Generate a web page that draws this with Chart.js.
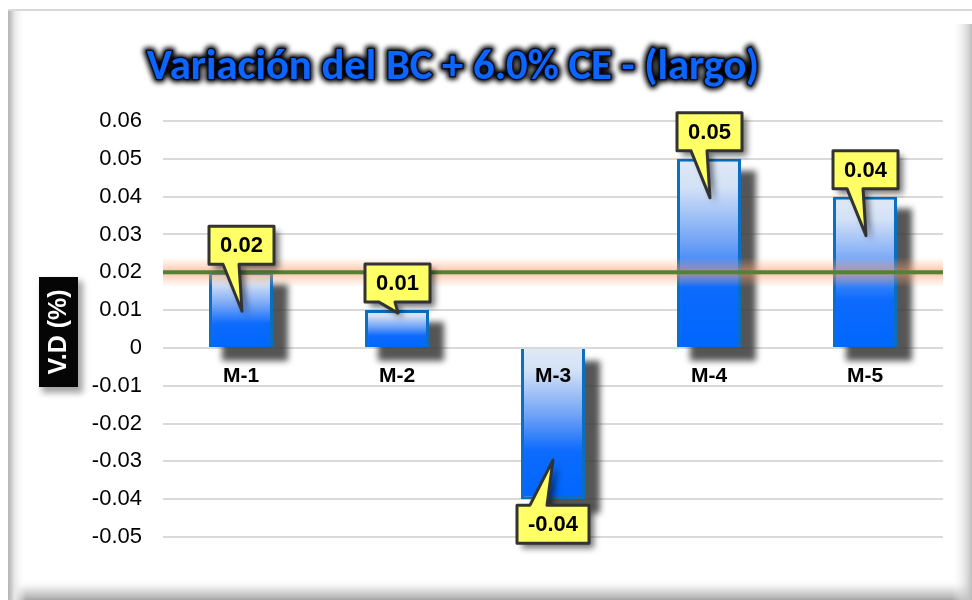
<!DOCTYPE html>
<html>
<head>
<meta charset="utf-8">
<script src="https://cdn.jsdelivr.net/npm/chart.js@4"></script>
<style>
  html, body { margin: 0; padding: 0; background: #fff; }
  canvas { display: block; }
</style>
</head>
<body>
<canvas id="chart" width="972" height="600"></canvas>
<script>
// Chart text
const chartTitle = 'Variación del BC + 6.0% CE - (largo)';
const axisTitle = 'V.D (%)';

// Data
const categories = ['M-1', 'M-2', 'M-3', 'M-4', 'M-5'];
const variation = [0.02, 0.01, -0.04, 0.05, 0.04];
const yTickValues = [-0.05, -0.04, -0.03, -0.02, -0.01, 0, 0.01, 0.02, 0.03, 0.04, 0.05, 0.06];
const targetLine = 0.02;

const fmt = v => String(Number(v.toFixed(2)));
const SANS = "'Liberation Sans', Arial, sans-serif";

// Vertical gradient from pale blue at the upper end of a bar to strong blue at the lower end
function barFill(context) {
  const chart = context.chart;
  const y = chart.scales.y;
  if (!y || context.type !== 'data') return '#0066ff';
  const p0 = y.getPixelForValue(0);
  const p1 = y.getPixelForValue(context.raw);
  const top = Math.min(p0, p1), bot = Math.max(p0, p1);
  if (!isFinite(top) || !isFinite(bot) || bot - top < 1) return '#0066ff';
  const g = chart.ctx.createLinearGradient(0, top, 0, bot);
  g.addColorStop(0, '#e0eaf6');
  g.addColorStop(0.15, '#d3e1f6');
  g.addColorStop(0.45, '#6ea1f6');
  g.addColorStop(0.68, '#0d6bfd');
  g.addColorStop(1, '#0066ff');
  return g;
}

// Bevelled panel behind the whole chart
const panelFrame = {
  id: 'panelFrame',
  beforeDraw(chart) {
    const { ctx, width, height } = chart;
    ctx.save();
    ctx.fillStyle = '#ffffff';
    ctx.fillRect(0, 0, width, height);
    // top rule
    ctx.fillStyle = '#d9d9d9';
    ctx.fillRect(8, 9, width - 8, 2);
    // bottom edge shading
    let g = ctx.createLinearGradient(0, 580, 0, height);
    g.addColorStop(0, 'rgba(255,255,255,0)');
    g.addColorStop(0.5, 'rgba(215,215,215,0.8)');
    g.addColorStop(1, '#a6a6a6');
    ctx.fillStyle = g;
    ctx.fillRect(8, 580, width - 8, height - 580);
    // left bevel
    g = ctx.createLinearGradient(8, 0, 26, 0);
    g.addColorStop(0, '#b4b4b4');
    g.addColorStop(0.18, '#c9c9c9');
    g.addColorStop(0.35, '#e6e6e6');
    g.addColorStop(1, 'rgba(255,255,255,0)');
    ctx.fillStyle = g;
    ctx.fillRect(8, 11, 18, height - 11);
    // right edge shading
    g = ctx.createLinearGradient(952, 0, width, 0);
    g.addColorStop(0, 'rgba(255,255,255,0)');
    g.addColorStop(1, '#bdbdbd');
    ctx.fillStyle = g;
    ctx.fillRect(952, 24, width - 952, height - 24);
    ctx.restore();
  }
};

// Soft drop shadows under the bars
const barShadows = {
  id: 'barShadows',
  beforeDatasetsDraw(chart) {
    const { ctx } = chart;
    const meta = chart.getDatasetMeta(0);
    ctx.save();
    ctx.filter = 'blur(3px)';
    ctx.fillStyle = 'rgba(55,55,55,0.85)';
    meta.data.forEach(el => {
      const { x, y, base, width } = el.getProps(['x', 'y', 'base', 'width'], true);
      const top = Math.min(y, base), bot = Math.max(y, base);
      ctx.fillRect(x - width / 2 + 13, top + 12, width + 2, bot - top + 2);
    });
    ctx.restore();
  }
};

// Reference line with a soft orange halo
const targetBand = {
  id: 'targetBand',
  afterDatasetsDraw(chart) {
    const { ctx, chartArea } = chart;
    const yPix = chart.scales.y.getPixelForValue(targetLine);
    ctx.save();
    const g = ctx.createLinearGradient(0, yPix - 15, 0, yPix + 15);
    g.addColorStop(0, 'rgba(250,170,120,0)');
    g.addColorStop(0.3, 'rgba(250,160,110,0.35)');
    g.addColorStop(0.5, 'rgba(248,150,100,0.6)');
    g.addColorStop(0.7, 'rgba(250,160,110,0.35)');
    g.addColorStop(1, 'rgba(250,170,120,0)');
    ctx.fillStyle = g;
    ctx.fillRect(chartArea.left, yPix - 15, chartArea.right - chartArea.left, 30);
    ctx.fillStyle = '#538135';
    ctx.fillRect(chartArea.left, yPix - 2, chartArea.right - chartArea.left, 4);
    ctx.restore();
  }
};

// Yellow callout labels pointing into each bar
const callouts = {
  id: 'callouts',
  afterDatasetsDraw(chart) {
    const { ctx } = chart;
    const meta = chart.getDatasetMeta(0);
    const values = chart.data.datasets[0].data;
    ctx.save();
    ctx.font = 'bold 22px ' + SANS;
    meta.data.forEach((el, i) => {
      const v = values[i];
      const { x, y, base } = el.getProps(['x', 'y', 'base'], true);
      const text = fmt(v);
      const tw = ctx.measureText(text).width;
      const w = Math.round(tw + 22), h = 38;
      const L = Math.round(x - w / 2), R = L + w;
      const len = Math.abs(base - y);
      const depth = Math.min(39, Math.max(3, len - 35));
      let T, B;
      ctx.beginPath();
      if (v >= 0) {
        B = y - 8; T = B - h;
        ctx.moveTo(L, T); ctx.lineTo(R, T); ctx.lineTo(R, B);
        ctx.lineTo(L + 30, B); ctx.lineTo(x + 1, y + depth); ctx.lineTo(L + 14, B);
        ctx.lineTo(L, B);
      } else {
        T = y + 6; B = T + h;
        ctx.moveTo(L, T); ctx.lineTo(L + 13, T); ctx.lineTo(x, y - depth);
        ctx.lineTo(L + 30, T); ctx.lineTo(R, T); ctx.lineTo(R, B); ctx.lineTo(L, B);
      }
      ctx.closePath();
      ctx.save();
      ctx.shadowColor = 'rgba(0,0,0,0.55)';
      ctx.shadowBlur = 6;
      ctx.shadowOffsetX = 5;
      ctx.shadowOffsetY = 5;
      ctx.fillStyle = '#ffff66';
      ctx.fill();
      ctx.restore();
      ctx.lineWidth = 3;
      ctx.lineJoin = 'round';
      ctx.strokeStyle = '#333333';
      ctx.stroke();
      ctx.fillStyle = '#000';
      ctx.textAlign = 'center';
      ctx.textBaseline = 'middle';
      ctx.fillText(text, (L + R) / 2, (T + B) / 2 + 1);
    });
    ctx.restore();
  }
};

// Title with dark glow and the boxed vertical axis caption
const headings = {
  id: 'headings',
  afterDraw(chart) {
    const { ctx } = chart;
    ctx.save();
    // title, fitted to its span
    let size = 40;
    ctx.font = `bold ${size}px Carlito, Lato, sans-serif`;
    const target = 612;
    size = size * target / ctx.measureText(chartTitle).width;
    ctx.font = `bold ${size.toFixed(1)}px Carlito, Lato, sans-serif`;
    ctx.textAlign = 'center';
    ctx.textBaseline = 'alphabetic';
    const tx = 453, ty = 79;
    ctx.filter = 'blur(2.5px)';
    ctx.lineJoin = 'round';
    ctx.lineWidth = 7;
    ctx.strokeStyle = 'rgba(0,0,0,1)';
    ctx.strokeText(chartTitle, tx, ty);
    ctx.filter = 'none';
    ctx.lineWidth = 2.5;
    ctx.strokeStyle = 'rgba(10,10,30,0.9)';
    ctx.strokeText(chartTitle, tx, ty);
    ctx.fillStyle = '#0a66ff';
    ctx.fillText(chartTitle, tx, ty);

    // axis caption box
    const bx = 39, by = 277, bw = 39, bh = 110;
    ctx.save();
    ctx.filter = 'blur(3px)';
    ctx.fillStyle = 'rgba(90,90,90,0.55)';
    ctx.fillRect(bx + 3, by + 4, bw + 2, bh + 2);
    ctx.restore();
    ctx.fillStyle = '#050505';
    ctx.fillRect(bx, by, bw, bh);
    ctx.translate(bx + bw / 2, by + bh / 2);
    ctx.rotate(-Math.PI / 2);
    ctx.font = 'bold 25px ' + SANS;
    ctx.fillStyle = '#ffffff';
    ctx.textAlign = 'center';
    ctx.textBaseline = 'middle';
    ctx.fillText(axisTitle, 0, 1);
    ctx.restore();
  }
};

new Chart(document.getElementById('chart'), {
  type: 'bar',
  data: {
    labels: categories,
    datasets: [{
      data: variation,
      backgroundColor: barFill,
      borderColor: '#0a6fc2',
      borderWidth: 3,
      borderSkipped: 'start',
      barPercentage: 0.41,
      categoryPercentage: 1
    }]
  },
  options: {
    responsive: false,
    devicePixelRatio: 1,
    animation: false,
    events: [],
    layout: { padding: { left: 83, right: 29, top: 121, bottom: 63 } },
    plugins: {
      legend: { display: false },
      title: { display: false },
      tooltip: { enabled: false }
    },
    scales: {
      x: {
        type: 'category',
        position: { y: 0 },
        offset: true,
        grid: { display: false, drawTicks: false },
        border: { display: false },
        ticks: {
          z: 1,
          padding: 16,
          color: '#000',
          font: { family: SANS, size: 21, weight: 'bold' }
        }
      },
      y: {
        min: -0.05,
        max: 0.06,
        afterFit(scale) { scale.width = 80; },
        afterBuildTicks(scale) { scale.ticks = yTickValues.map(v => ({ value: v })); },
        grid: { color: '#d9d9d9', lineWidth: 2, drawTicks: false, tickLength: 0 },
        border: { display: false },
        ticks: {
          padding: 21,
          color: '#000',
          font: { family: SANS, size: 22 },
          callback: v => fmt(v)
        }
      }
    }
  },
  plugins: [panelFrame, barShadows, targetBand, callouts, headings]
});
</script>
</body>
</html>
